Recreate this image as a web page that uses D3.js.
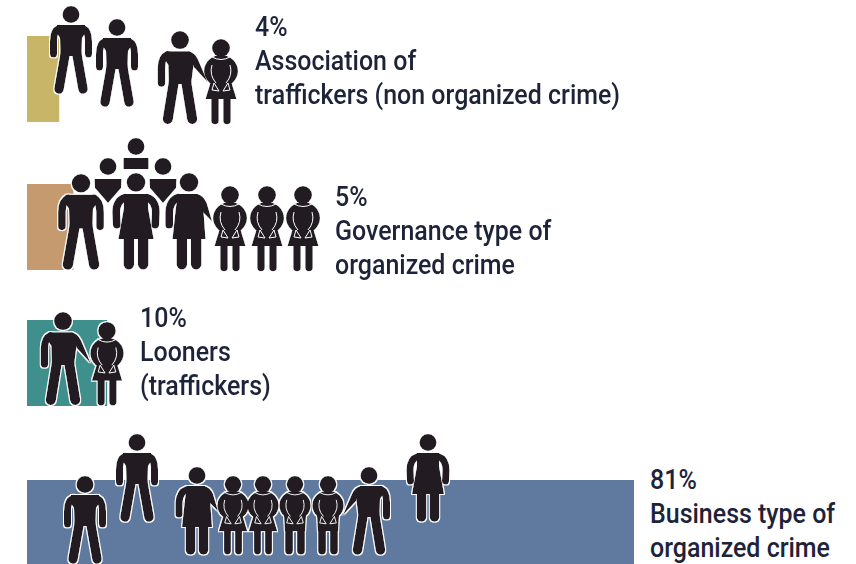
<!DOCTYPE html>
<html>
<head>
<meta charset="utf-8">
<script src="https://cdn.jsdelivr.net/npm/d3@7"></script>
<style>
  html, body { margin: 0; padding: 0; background: #fff; }
  svg { display: block; }
  text { font-family: Roboto, sans-serif; font-size: 27px; font-weight: 500; fill: #1d2338; }
</style>
</head>
<body>
<svg id="chart" width="856" height="564"></svg>
<script>
// shares as printed, and the bar lengths as measured (the printed bars are not quite to scale)
var categories = ["Association", "Governance", "Looners", "Business"];
var shares = ["4%", "5%", "10%", "81%"];
var barLengths = [4.3, 6.2, 10.7, 81];
var labelLines = [
    ["Association of", "traffickers (non organized crime)"],
    ["Governance type of", "organized crime"],
    ["Looners", "(traffickers)"],
    ["Business type of", "organized crime"]
];
var barColors = ["#c8b568", "#c69a6f", "#3f8f8c", "#60799f"];

var svg = d3.select("#chart");
var ink = "#231f20";

var x = d3.scaleLinear().domain([0, 81]).range([27, 634]);
var rowTop = d3.scaleOrdinal().domain(categories).range([36, 184, 320, 480]);
var rowHeight = 86;
var labelX = d3.scaleOrdinal().domain(categories).range([255, 335, 140, 650]);
var labelTop = d3.scaleOrdinal().domain(categories).range([36, 206, 327, 489]);
var lineStep = 34;
var condense = 0.925;

// bars
svg.selectAll("rect.bar")
    .data(categories)
    .enter()
    .append("rect")
    .attr("class", "bar")
    .attr("x", x(0))
    .attr("y", function(d) { return rowTop(d); })
    .attr("width", function(d, i) { return x(barLengths[i]) - x(0); })
    .attr("height", function(d, i) { return i === 3 ? 564 - rowTop(d) : rowHeight; })
    .attr("fill", function(d, i) { return barColors[i]; });

// pictogram shapes, all drawn in a box 88 high with x=0 in the middle
function limb(g, path, w) {
    g.append("path").attr("d", path).attr("fill", "none").attr("stroke", ink)
        .attr("stroke-width", w).attr("stroke-linecap", "round").attr("stroke-linejoin", "round");
}
function solid(g, path) {
    g.append("path").attr("d", path).attr("fill", ink);
}
function head(g, cy, r) {
    g.append("circle").attr("cx", 0).attr("cy", cy).attr("r", r).attr("fill", ink);
}

function man(g) {
    head(g, 8.5, 8.5);
    solid(g, "M-14,19 L14,19 L15,26 L11,32 L10.5,50 L-10.5,50 L-11,32 L-15,26 Z");
    limb(g, "M-12,22.5 Q-17.5,25 -17.5,35 L-17.5,48", 7);
    limb(g, "M12,22.5 Q17.5,25 17.5,35 L17.5,48", 7);
    limb(g, "M-5.5,46 L-12,83", 9.5);
    limb(g, "M5.5,46 L12,83", 9.5);
}
function manOut(g) {
    head(g, 8.5, 8.5);
    solid(g, "M-13,19 L9,19 L13,30 L10.5,50 L-10.5,50 L-11,32 L-15,26 Z");
    limb(g, "M-12,22.5 Q-17.5,25 -17.5,35 L-17.5,49", 7);
    solid(g, "M8,19 Q14,20 17,27 L26,48 L13,34 Z");
    limb(g, "M-5.5,46 L-11.5,83", 9.5);
    limb(g, "M5.5,46 L11.5,83", 9.5);
}
function woman(g) {
    head(g, 8.5, 8.5);
    solid(g, "M-11,19 L11,19 L11,32 L16,60 L-16,60 L-11,32 Z");
    limb(g, "M-10,22.5 Q-18,25 -18,36 L-17.5,47", 7);
    limb(g, "M10,22.5 Q18,25 18,36 L17.5,47", 7);
    limb(g, "M-6.5,60 L-6.5,83", 9.5);
    limb(g, "M6.5,60 L6.5,83", 9.5);
}
function womanOut(g) {
    head(g, 8.5, 8.5);
    solid(g, "M-10,19 L8,19 L13,32 L15,60 L-15,60 L-12,32 Z");
    limb(g, "M-10,22.5 Q-17.5,25 -18,36 L-18,47", 7);
    solid(g, "M7,19 Q13,20 16,27 L21,44 L13,36 Z");
    limb(g, "M-6.5,60 L-6.5,83", 9.5);
    limb(g, "M6.5,60 L6.5,83", 9.5);
}
function backTorso(g) {
    head(g, 9, 9);
    g.append("ellipse").attr("cx", 0).attr("cy", 32).attr("rx", 17).attr("ry", 16).attr("fill", ink);
    // collar, arms and cuffs show up as thin white lines
    g.append("path")
        .attr("d", "M-9,18 Q0,23 9,18 M-9,26 Q-12,36 -5,44 M9,26 Q12,36 5,44 M-7,44 L-2,52 L-9,51 Z M7,44 L2,52 L9,51 Z")
        .attr("fill", "none").attr("stroke", "#fff").attr("stroke-width", 1);
}
function womanBack(g) {
    solid(g, "M-10,42 L10,42 L15.5,60 L-15.5,60 Z");
    limb(g, "M-6,60 L-6,81.5", 7.5);
    limb(g, "M6,60 L6,81.5", 7.5);
    backTorso(g);
}
function manBack(g) {
    solid(g, "M-12,42 L12,42 L11,60 L-11,60 Z");
    limb(g, "M-6.5,52 L-6.5,81", 8.5);
    limb(g, "M6.5,52 L6.5,81", 8.5);
    backTorso(g);
}
function bustDown(g) {
    head(g, 8.5, 8.5);
    solid(g, "M-13.5,21 L13.5,21 L13,30 L0,45 L-13,30 Z");
}
function bustBar(g) {
    head(g, 8.5, 8.5);
    solid(g, "M-12.5,20 L12.5,20 L12.5,31 L-12.5,31 Z");
}

var shapes = {
    man: man, manOut: manOut, woman: woman, womanOut: womanOut,
    womanBack: womanBack, manBack: manBack, bustDown: bustDown, bustBar: bustBar
};

// where each figure stands: shape, centre, top of head, scale, mirrored
var figures = [
    ["man", 71, 6, 1], ["man", 117, 19, 1], ["manOut", 180, 31, 1.06], ["womanBack", 221, 39, 1],
    ["bustBar", 136, 138, 1], ["bustDown", 108, 158, 1], ["bustDown", 163, 158, 1],
    ["man", 81, 174, 1.09], ["woman", 136, 173, 1.1], ["womanOut", 189, 173, 1.1],
    ["womanBack", 230, 186, 1], ["womanBack", 267, 186, 1], ["womanBack", 303, 186, 1],
    ["manOut", 63, 312, 1.06], ["womanBack", 107, 322, 0.98],
    ["man", 85, 476, 1], ["man", 137, 434, 1],
    ["womanOut", 197, 467, 1], ["womanBack", 233, 476, 0.92], ["womanBack", 263, 476, 0.92],
    ["manBack", 295, 476, 0.92], ["manBack", 328, 476, 0.92],
    ["manOut", 369, 467, 1, true], ["woman", 428, 434, 1]
];

// thin white halo round the figures
var defs = svg.append("defs");
var halo = defs.append("filter").attr("id", "halo");
halo.append("feMorphology").attr("in", "SourceAlpha").attr("operator", "dilate").attr("radius", 0.5).attr("result", "fat");
halo.append("feFlood").attr("flood-color", "#fff").attr("result", "paper");
halo.append("feComposite").attr("in", "paper").attr("in2", "fat").attr("operator", "in").attr("result", "edge");
var merge = halo.append("feMerge");
merge.append("feMergeNode").attr("in", "edge");
merge.append("feMergeNode").attr("in", "SourceGraphic");

var people = svg.append("g").attr("class", "people").attr("filter", "url(#halo)");
figures.forEach(function(f) {
    var sx = f[4] ? -f[3] : f[3];
    var g = people.append("g")
        .attr("transform", "translate(" + f[1] + "," + f[2] + ") scale(" + sx + "," + f[3] + ")");
    shapes[f[0]](g);
});

// labels
categories.forEach(function(c, i) {
    var lines = [shares[i]].concat(labelLines[i]);
    svg.selectAll("text.row" + i)
        .data(lines)
        .enter()
        .append("text")
        .attr("class", "row" + i)
        .attr("transform", function(d, j) {
            return "translate(" + labelX(c) + "," + (labelTop(c) + j * lineStep) + ") scale(" + condense + ",1)";
        })
        .text(function(d) { return d; });
});
</script>
</body>
</html>
